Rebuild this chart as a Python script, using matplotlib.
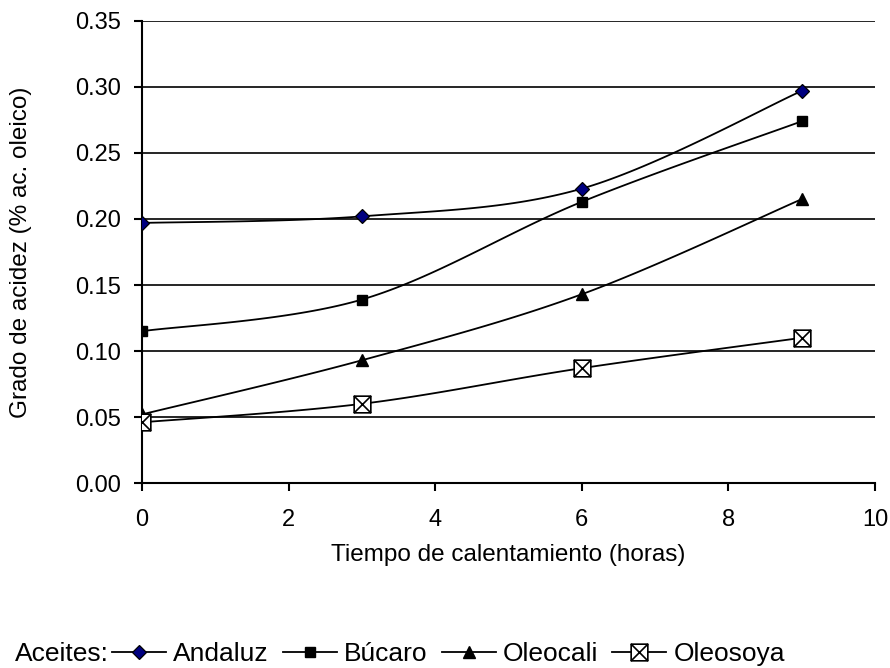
import numpy as np
import matplotlib
matplotlib.use("Agg")
import matplotlib.pyplot as plt
from matplotlib.path import Path
from matplotlib.lines import Line2D

plt.rcParams["font.family"] = ["Liberation Sans", "DejaVu Sans"]

# horas de calentamiento y grado de acidez de cada aceite
horas = [0, 3, 6, 9]
andaluz = [0.197, 0.202, 0.223, 0.297]
bucaro = [0.115, 0.139, 0.213, 0.274]
oleocali = [0.052, 0.093, 0.143, 0.215]
oleosoya = [0.046, 0.060, 0.087, 0.110]

nombres = ["Andaluz", "Búcaro", "Oleocali", "Oleosoya"]
yticks = [0.00, 0.05, 0.10, 0.15, 0.20, 0.25, 0.30, 0.35]
xticks = [0, 2, 4, 6, 8, 10]


def suavizar(x, y, n=40):
    # curva tipo Catmull-Rom (bezier con puntos de control a 1/6)
    p = np.column_stack([x, y]).astype(float)
    ext = np.vstack([p[0], p, p[-1]])
    t = np.linspace(0, 1, n)[:, None]
    partes = []
    for i in range(len(p) - 1):
        p0, p3 = ext[i + 1], ext[i + 2]
        c1 = p0 + (ext[i + 2] - ext[i]) / 6
        c2 = p3 - (ext[i + 3] - ext[i + 1]) / 6
        b = ((1 - t) ** 3) * p0 + 3 * ((1 - t) ** 2) * t * c1 + 3 * (1 - t) * t ** 2 * c2 + t ** 3 * p3
        partes.append(b if i == 0 else b[1:])
    c = np.vstack(partes)
    return c[:, 0], c[:, 1]


# cuadrado con aspa para Oleosoya
cuadro_x = Path(
    [(-1, -1), (1, -1), (1, 1), (-1, 1), (-1, -1), (-1, -1), (1, 1), (-1, 1), (1, -1)],
    [Path.MOVETO, Path.LINETO, Path.LINETO, Path.LINETO, Path.CLOSEPOLY,
     Path.MOVETO, Path.LINETO, Path.MOVETO, Path.LINETO],
)

estilos = [
    dict(marker="D", markersize=7.5, markerfacecolor="#000080", markeredgecolor="black", markeredgewidth=0.9),
    dict(marker="s", markersize=7.5, markerfacecolor="black", markeredgecolor="black"),
    dict(marker="^", markersize=8.5, markerfacecolor="black", markeredgecolor="black"),
    dict(marker=cuadro_x, markersize=12, markerfacecolor="white", markeredgecolor="black", markeredgewidth=1.2),
]

fig = plt.figure(figsize=(8.9, 6.68), dpi=100)
ax = fig.add_axes([0.1596, 0.2769, 0.8235, 0.6917])

for serie, est in zip([andaluz, bucaro, oleocali, oleosoya], estilos):
    sx, sy = suavizar(horas, serie)
    ax.plot(sx, sy, color="black", lw=1.3, zorder=3)
    ax.plot(horas, serie, linestyle="none", zorder=4, **est)

ax.set_xlim(0, 10)
ax.set_ylim(0, 0.35)
ax.set_xticks(xticks)
ax.set_yticks(yticks)
ax.set_yticklabels([f"{v:.2f}" for v in yticks])
ax.yaxis.grid(True, color="black", lw=1.2)
ax.set_axisbelow(True)
for lado in ["top", "right"]:
    ax.spines[lado].set_visible(False)
for lado in ["left", "bottom"]:
    ax.spines[lado].set_linewidth(1.5)
ax.tick_params(axis="both", labelsize=17, width=1.5, length=6, color="black")
ax.tick_params(axis="x", pad=13)
ax.tick_params(axis="y", pad=9)
ax.set_xlabel("Tiempo de calentamiento (horas)", fontsize=17.5, labelpad=9)
ax.set_ylabel("Grado de acidez (% ac. oleico)", fontsize=17.5, labelpad=31)

# leyenda horizontal al pie
fig.text(0.017, 0.021, "Aceites:", fontsize=19, va="center", ha="left")
manijas = [Line2D([0], [0], color="black", lw=1.3, **est) for est in estilos]
fig.legend(manijas, nombres, loc="center left", bbox_to_anchor=(0.126, 0.021),
           ncol=4, frameon=False, fontsize=19, handlelength=2.05, handletextpad=0.27,
           columnspacing=0.53, borderpad=0, borderaxespad=0)

fig.savefig("out.png", dpi=100)
